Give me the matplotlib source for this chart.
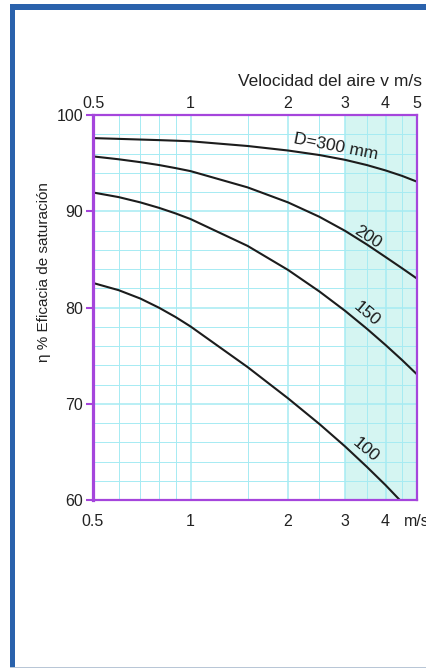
import matplotlib
matplotlib.use('Agg')
import matplotlib.pyplot as plt
from matplotlib.ticker import FixedLocator, NullFormatter, FixedFormatter, NullLocator
from matplotlib.patches import Rectangle

plt.rcParams['font.family'] = ['Liberation Sans', 'DejaVu Sans']

# ---- data ----
v_common = [0.5, 0.6, 0.7, 0.8, 0.9, 1.0, 1.5, 2.0, 2.5, 3.0, 3.5, 4.0, 4.5, 5.0]
eff_300 = [97.6, 97.52, 97.45, 97.39, 97.33, 97.27, 96.78, 96.31, 95.84, 95.34, 94.8, 94.24, 93.67, 93.07]
eff_200 = [95.7, 95.4, 95.1, 94.8, 94.48, 94.17, 92.48, 90.92, 89.42, 87.96, 86.55, 85.24, 84.07, 83.0]
eff_150 = [91.95, 91.47, 90.92, 90.35, 89.77, 89.19, 86.4, 83.9, 81.66, 79.65, 77.8, 76.1, 74.53, 73.05]
v_100 = [0.5, 0.6, 0.7, 0.8, 0.9, 1.0, 1.5, 2.0, 2.5, 3.0, 3.5, 4.0, 4.41]
eff_100 = [82.55, 81.8, 80.93, 79.97, 79.0, 78.03, 73.81, 70.56, 67.89, 65.56, 63.45, 61.54, 60.05]

curve_labels = ['D=300 mm', '200', '150', '100']
label_pos_v = [2.81, 3.53, 3.50, 3.48]
label_pos_e = [96.68, 87.36, 79.38, 65.18]
label_rot = [-11, -33, -40, -40]

major_x = [0.5, 1, 2, 3, 4, 5]
bottom_labels = ['0.5', '1', '2', '3', '4', 'm/s']
top_labels = ['0.5', '1', '2', '3', '4', '5']
minor_x = [0.6, 0.7, 0.8, 0.9, 1.5, 2.5, 3.5, 4.5]
major_y = [60, 70, 80, 90, 100]
minor_y = list(range(60, 101, 2))
shade_range = (3, 5)

purple = '#a545dc'
gridc = '#a6ebf3'
blue = '#2a62ac'
ink = '#222222'

fig = plt.figure(figsize=(4.27, 6.68), dpi=100)
W, H = 427, 668

# page frame
fig.patches.append(Rectangle((10 / W, 1 - 10 / H), 1, 6 / H, transform=fig.transFigure,
                             color=blue, lw=0, zorder=0))
fig.patches.append(Rectangle((10 / W, 0), 5 / W, 1 - 4 / H, transform=fig.transFigure,
                             color=blue, lw=0, zorder=0))
fig.patches.append(Rectangle((10 / W, 0), 1, 1.5 / H, transform=fig.transFigure,
                             color='#b8c6d6', lw=0, zorder=0))

ax = fig.add_axes([93 / W, 168 / H, 324 / W, 385 / H])
ax.set_xscale('log')
ax.set_xlim(0.5, 5)
ax.set_ylim(60, 100)

ax.axvspan(shade_range[0], shade_range[1], color='#d5f5f2', lw=0, zorder=0)

for v, e in [(v_common, eff_300), (v_common, eff_200), (v_common, eff_150), (v_100, eff_100)]:
    ax.plot(v, e, color='#1c1c1c', lw=1.5, zorder=3, solid_joinstyle='round')

for t, xv, yv, r in zip(curve_labels, label_pos_v, label_pos_e, label_rot):
    ax.text(xv, yv, t, rotation=r, rotation_mode='anchor', ha='center', va='center',
            fontsize=12.5, color='#1c1c1c', zorder=4)

ax.xaxis.set_major_locator(FixedLocator(major_x))
ax.xaxis.set_major_formatter(FixedFormatter(bottom_labels))
ax.xaxis.set_minor_locator(FixedLocator(minor_x))
ax.xaxis.set_minor_formatter(NullFormatter())
ax.yaxis.set_major_locator(FixedLocator(major_y))
ax.yaxis.set_minor_locator(FixedLocator(minor_y))

ax.set_axisbelow(True)
ax.grid(which='major', color=gridc, lw=1.1)
ax.grid(which='minor', color=gridc, lw=0.7)

ax.tick_params(axis='x', which='both', length=0, pad=10, labelsize=11.5, labelcolor=ink)
ax.tick_params(axis='y', which='major', length=5, width=1.5, color=purple, pad=2,
               labelsize=11.5, labelcolor=ink)
ax.tick_params(axis='y', which='minor', length=0)

for s in ax.spines.values():
    s.set_color(purple)
    s.set_linewidth(1.6)
    s.set_zorder(5)
ax.spines['left'].set_linewidth(2.3)

axt = ax.twiny()
axt.set_xscale('log')
axt.set_xlim(0.5, 5)
axt.xaxis.set_major_locator(FixedLocator(major_x))
axt.xaxis.set_major_formatter(FixedFormatter(top_labels))
axt.xaxis.set_minor_locator(NullLocator())
axt.tick_params(axis='x', which='both', length=0, pad=3, labelsize=11.5, labelcolor=ink)
for s in axt.spines.values():
    s.set_visible(False)

fig.text(422 / W, 1 - 82 / H, 'Velocidad del aire v m/s', ha='right', va='center',
         fontsize=12.5, color=ink)
fig.text(44 / W, 1 - 272 / H, 'η % Eficacia de saturación', rotation=90,
         ha='center', va='center', fontsize=11, color=ink)

fig.savefig('out.png', dpi=100)
